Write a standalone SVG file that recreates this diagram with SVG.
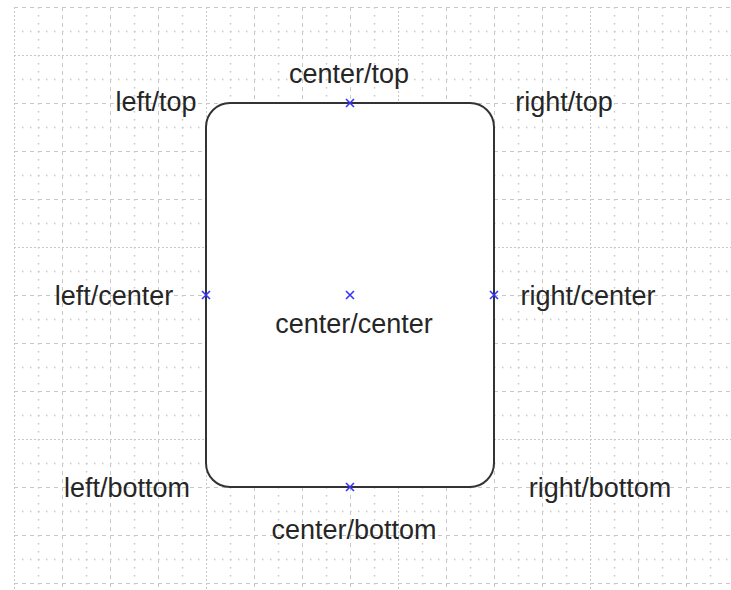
<svg xmlns="http://www.w3.org/2000/svg" width="731" height="590" viewBox="0 0 731 590">
<style>
.maj{stroke:#c8c8c8;stroke-width:1;stroke-dasharray:4 4;fill:none}
.dot{stroke:#c8c8c8;stroke-width:1;stroke-dasharray:2 2;fill:none}
.min{stroke:#c8c8c8;stroke-width:1.5;stroke-dasharray:1.5 6.5;fill:none}
.lbl{font-family:"Liberation Sans",Arial,sans-serif;font-size:27px;fill:#262626;text-anchor:middle}
.mk{stroke:#3333ff;stroke-width:1.6;fill:none}
</style>
<rect width="731" height="590" fill="#ffffff"/>
<g id="grid">
<path class="min" d="M38.5 7V590M86.5 7V590M134.5 7V590M182.5 7V590M230.5 7V590M278.5 7V590M326.5 7V590M374.5 7V590M422.5 7V590M470.5 7V590M518.5 7V590M566.5 7V590M614.5 7V590M662.5 7V590M710.5 7V590"/>
<path class="min" d="M14 31.5H731M14 79.5H731M14 127.5H731M14 175.5H731M14 223.5H731M14 271.5H731M14 319.5H731M14 367.5H731M14 415.5H731M14 463.5H731M14 511.5H731M14 559.5H731"/>
<path class="maj" d="M62.5 7V590M110.5 7V590M158.5 7V590M254.5 7V590M302.5 7V590M350.5 7V590M446.5 7V590M494.5 7V590M542.5 7V590M638.5 7V590M686.5 7V590"/>
<path class="dot" d="M14.5 7V590M206.5 7V590M398.5 7V590M590.5 7V590"/>
<path class="maj" d="M14 7.5H731M14 103.5H731M14 151.5H731M14 199.5H731M14 295.5H731M14 343.5H731M14 391.5H731M14 487.5H731M14 535.5H731M14 583.5H731"/>
<path class="dot" d="M14 55.5H731M14 247.5H731M14 439.5H731"/>
</g>
<g id="shape">
<rect x="206" y="103" width="288" height="384" rx="24" ry="24" fill="#ffffff" stroke="#333333" stroke-width="2"/>
</g>
<g id="connectors"></g>
<g id="markers">
<path class="mk" d="M346 99l8 8M354 99l-8 8"/>
<path class="mk" d="M202 291l8 8M210 291l-8 8"/>
<path class="mk" d="M346 291l8 8M354 291l-8 8"/>
<path class="mk" d="M490 291l8 8M498 291l-8 8"/>
<path class="mk" d="M346 483l8 8M354 483l-8 8"/>
</g>
<g id="labels">
<text class="lbl" x="156" y="111">left/top</text>
<text class="lbl" x="349" y="83">center/top</text>
<text class="lbl" x="564" y="111">right/top</text>
<text class="lbl" x="114" y="305">left/center</text>
<text class="lbl" x="354" y="333">center/center</text>
<text class="lbl" x="588" y="305">right/center</text>
<text class="lbl" x="127" y="497">left/bottom</text>
<text class="lbl" x="354" y="539">center/bottom</text>
<text class="lbl" x="600" y="497">right/bottom</text>
</g>
</svg>
